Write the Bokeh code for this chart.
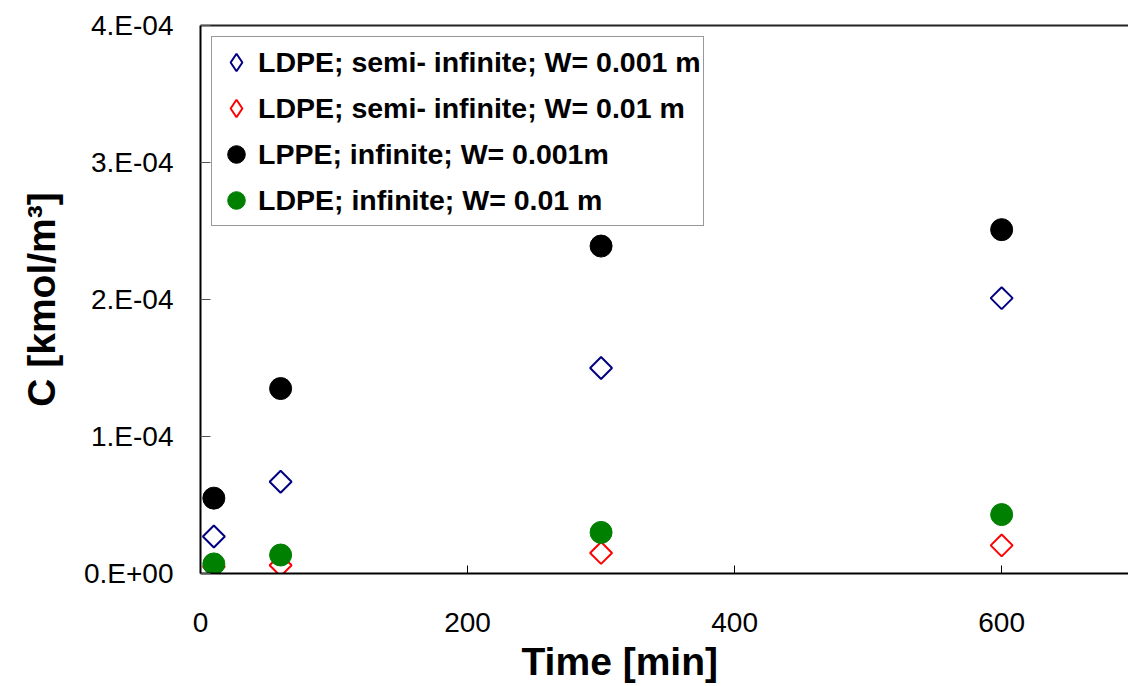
import math
from bokeh.plotting import figure
from bokeh.models import Range1d, FixedTicker, LinearAxis, Legend, LegendItem, Title
from bokeh.embed import file_html
from bokeh.resources import INLINE

# ---- data ----
time_min = [10, 60, 300, 600]
semi_w0001 = [2.7e-5, 6.7e-5, 1.50e-4, 2.01e-4]
semi_w001 = [5e-6, 6e-6, 1.5e-5, 2.05e-5]
inf_w0001 = [5.5e-5, 1.35e-4, 2.39e-4, 2.51e-4]
inf_w001 = [7e-6, 1.35e-5, 3.0e-5, 4.3e-5]

series_labels = [
    "LDPE; semi- infinite; W= 0.001 m",
    "LDPE; semi- infinite; W= 0.01 m",
    "LPPE; infinite; W= 0.001m",
    "LDPE; infinite; W= 0.01 m",
]
series_colors = ["#000080", "#FF0000", "black", "#008000"]

x_ticks = [0, 200, 400, 600]
y_ticks = [0, 1e-4, 2e-4, 3e-4, 4e-4]
y_tick_labels = ["0.E+00", "1.E-04", "2.E-04", "3.E-04", "4.E-04"]

x_title = "Time [min]"
y_title = "C [kmol/m\u00b3]"

FONT = "Liberation Sans"

p = figure(width=1128, height=686,
           x_range=Range1d(0, 695), y_range=Range1d(0, 4e-4),
           output_backend="svg", toolbar_location=None,
           min_border_left=200, min_border_right=0,
           min_border_top=25, min_border_bottom=113)

p.outline_line_color = None
p.xgrid.visible = False
p.ygrid.visible = False
p.background_fill_color = "white"

# x axis
xa = p.xaxis[0]
xa.ticker = FixedTicker(ticks=x_ticks)
xa.major_tick_in = 8
xa.major_tick_out = 0
xa.minor_tick_line_color = None
xa.axis_line_width = 2
xa.axis_line_color = "black"
xa.major_tick_line_color = "black"
xa.major_label_text_font = FONT
xa.major_label_text_font_size = "28px"
xa.major_label_text_color = "black"
xa.major_label_standoff = 39

# y axis
ya = p.yaxis[0]
ya.ticker = FixedTicker(ticks=y_ticks)
ya.major_label_overrides = {t: l for t, l in zip(y_ticks, y_tick_labels)}
ya.major_tick_in = 10
ya.major_tick_out = 0
ya.minor_tick_line_color = None
ya.axis_line_width = 2
ya.axis_line_color = "black"
ya.major_tick_line_color = "#555555"
ya.major_label_text_font = FONT
ya.major_label_text_font_size = "28px"
ya.major_label_text_color = "black"
ya.major_label_standoff = 27
ya.axis_label = y_title
ya.axis_label_text_font = FONT
ya.axis_label_text_font_style = "bold"
ya.axis_label_text_font_size = "39px"
ya.axis_label_text_color = "black"
ya.axis_label_standoff = 18

# top border
top = LinearAxis(ticker=FixedTicker(ticks=[]), axis_line_width=2,
                 axis_line_color="#222222", major_tick_line_color=None,
                 minor_tick_line_color=None, major_label_text_font_size="0px")
p.add_layout(top, "above")

# x title
p.add_layout(Title(text=x_title, align="left", offset=321,
                   text_font=FONT, text_font_style="bold",
                   text_font_size="39px", text_color="black", standoff=7), "below")

diag = math.pi / 4
r1 = p.scatter(time_min, semi_w0001, marker="square", size=15.5, angle=diag,
               fill_color=None, line_color=series_colors[0], line_width=2)
r2 = p.scatter(time_min, semi_w001, marker="square", size=15.5, angle=diag,
               fill_color=None, line_color=series_colors[1], line_width=2)
r3 = p.scatter(time_min, inf_w0001, marker="circle", size=22,
               fill_color=series_colors[2], line_color=series_colors[2])
r4 = p.scatter(time_min, inf_w001, marker="circle", size=22,
               fill_color=series_colors[3], line_color=series_colors[3])

# legend-only glyphs (diamond shape; the legend ignores marker angle)
l1 = p.scatter(time_min, semi_w0001, marker="diamond", size=15, fill_color=None,
               line_color=series_colors[0], line_width=2, visible=False)
l2 = p.scatter(time_min, semi_w001, marker="diamond", size=15, fill_color=None,
               line_color=series_colors[1], line_width=2, visible=False)

legend = Legend(items=[LegendItem(label=l, renderers=[r]) for l, r in
                       zip(series_labels, [l1, l2, r3, r4])],
                location="top_left", margin=11, padding=2, spacing=0,
                glyph_width=44, glyph_height=46, label_standoff=0,
                label_text_font=FONT, label_text_font_style="bold",
                label_text_font_size="28.5px", label_text_color="black",
                border_line_color="#333333", border_line_width=1,
                background_fill_color="white", background_fill_alpha=1,
                inactive_fill_alpha=0)
p.add_layout(legend)

open("out.html", "w").write(file_html(p, INLINE))
